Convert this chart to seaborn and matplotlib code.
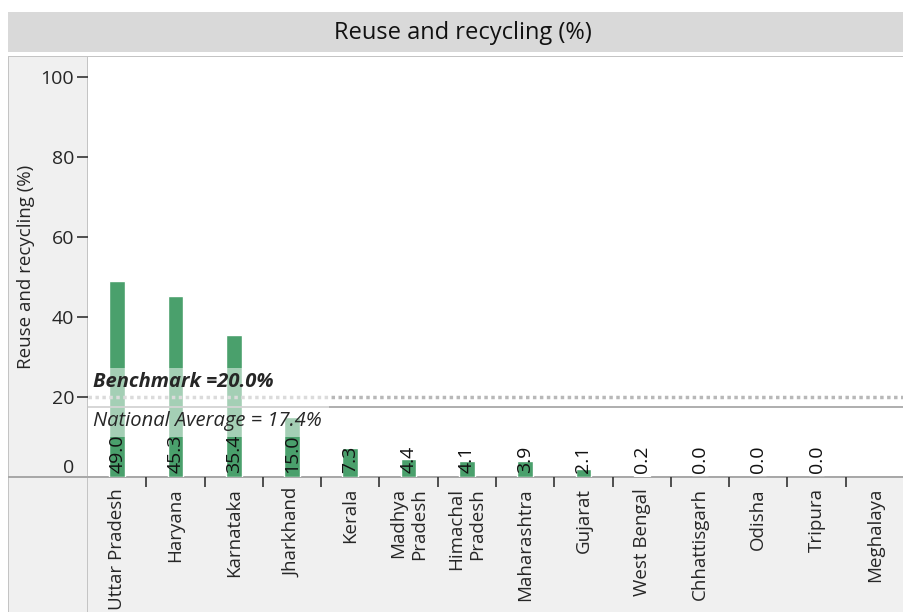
import matplotlib
matplotlib.use('Agg')
import matplotlib.pyplot as plt
import seaborn as sns
import pandas as pd
import numpy as np
from matplotlib.patches import Rectangle

# Data
states = ['Uttar Pradesh', 'Haryana', 'Karnataka', 'Jharkhand', 'Kerala',
          'Madhya\nPradesh', 'Himachal\nPradesh', 'Maharashtra', 'Gujarat',
          'West Bengal', 'Chhattisgarh', 'Odisha', 'Tripura', 'Meghalaya']
reuse_pct = [49.0, 45.3, 35.4, 15.0, 7.3, 4.4, 4.1, 3.9, 2.1, 0.2, 0.0, 0.0, 0.0, np.nan]
benchmark = 20.0
national_avg = 17.4
title = 'Reuse and recycling (%)'
y_ticks = [0, 20, 40, 60, 80, 100]

df = pd.DataFrame({'state': states, 'value': reuse_pct})

sns.set_style('white')
plt.rcParams['font.family'] = ['Open Sans', 'DejaVu Sans']

W, H = 904, 612
fig = plt.figure(figsize=(W / 100, H / 100), dpi=100)

def fr(x0, y0, x1, y1):
    # pixel box (top-left origin) -> figure fraction rect
    return (x0 / W, 1 - y1 / H, (x1 - x0) / W, (y1 - y0) / H)

# background panels
for box, col in [((8, 12, 904, 52), '#d9d9d9'),
                 ((8, 56, 88, 612), '#f0f0f0'),
                 ((8, 478, 904, 612), '#f0f0f0')]:
    x, y, w, h = fr(*box)
    fig.patches.append(Rectangle((x, y), w, h, transform=fig.transFigure,
                                 facecolor=col, edgecolor='none', zorder=0))
# panel borders
for box in [(8, 56, 904, 57), (8, 56, 9, 612), (87, 56, 88, 612)]:
    x, y, w, h = fr(*box)
    fig.patches.append(Rectangle((x, y), w, h, transform=fig.transFigure,
                                 facecolor='#c4c4c4', edgecolor='none', zorder=1))
x, y, w, h = fr(8, 476, 904, 478)
fig.patches.append(Rectangle((x, y), w, h, transform=fig.transFigure,
                             facecolor='#a8a8a8', edgecolor='none', zorder=1))

fig.text(463 / W, 1 - 33 / H, title, ha='center', va='center', fontsize=17, color='#111111')

ax = fig.add_axes(fr(88, 57, 904, 477))
ax.set_zorder(3)
ax.patch.set_alpha(0)
sns.barplot(data=df, x='state', y='value', color='#4aa06c', width=0.27,
            saturation=1, ax=ax, zorder=2)

ax.set_ylim(0, 105)
ax.set_xlim(-0.5, len(states) - 0.67)
for s in ax.spines.values():
    s.set_visible(False)

# reference lines
ax.axhline(benchmark, color='#b8b8b8', lw=2.5, ls=(0, (1, 1)), zorder=3)
ax.axhline(national_avg, color='#a8a8a8', lw=1.3, zorder=3)
ax.axhspan(10.0, 27.2, xmin=0, xmax=0.295, color='white', alpha=0.5, lw=0, zorder=4)
ax.text(-0.42, benchmark + 1.2, f'Benchmark ={benchmark:.1f}%', fontsize=14.5,
        fontweight='bold', fontstyle='italic', va='bottom', ha='left', zorder=5)
ax.text(-0.42, national_avg - 1.0, f'National Average = {national_avg}%', fontsize=14.5,
        fontstyle='italic', va='top', ha='left', zorder=5)

# value labels inside bars
for i, v in enumerate(reuse_pct):
    if not np.isnan(v):
        ax.text(i, 1.0, f'{v:.1f}', rotation=90, ha='center', va='bottom',
                fontsize=14, color='#111111', zorder=6)

# axes ticks
ax.set_yticks(y_ticks)
ax.set_yticklabels([str(t) for t in y_ticks], fontsize=14)
ax.tick_params(axis='y', direction='out', length=8, width=1.2, color='#333333', pad=2, left=True)
ax.get_yticklabels()[0].set_va('bottom')
ax.yaxis.get_major_ticks()[0].tick1line.set_markersize(0)

ax.set_xticks(range(len(states)))
ax.set_xticklabels(states, rotation=90, fontsize=13.5, va='top', ha='center',
                   multialignment='right')
ax.set_xticks(np.arange(len(states)) + 0.5, minor=True)
ax.tick_params(axis='x', which='major', length=0, pad=8)
ax.tick_params(axis='x', which='minor', direction='out', length=7, width=1.2,
               color='#333333', bottom=True)
ax.set_xlabel('')
ax.set_ylabel(title, fontsize=13.5, labelpad=4)

fig.savefig('out.png', dpi=100)
